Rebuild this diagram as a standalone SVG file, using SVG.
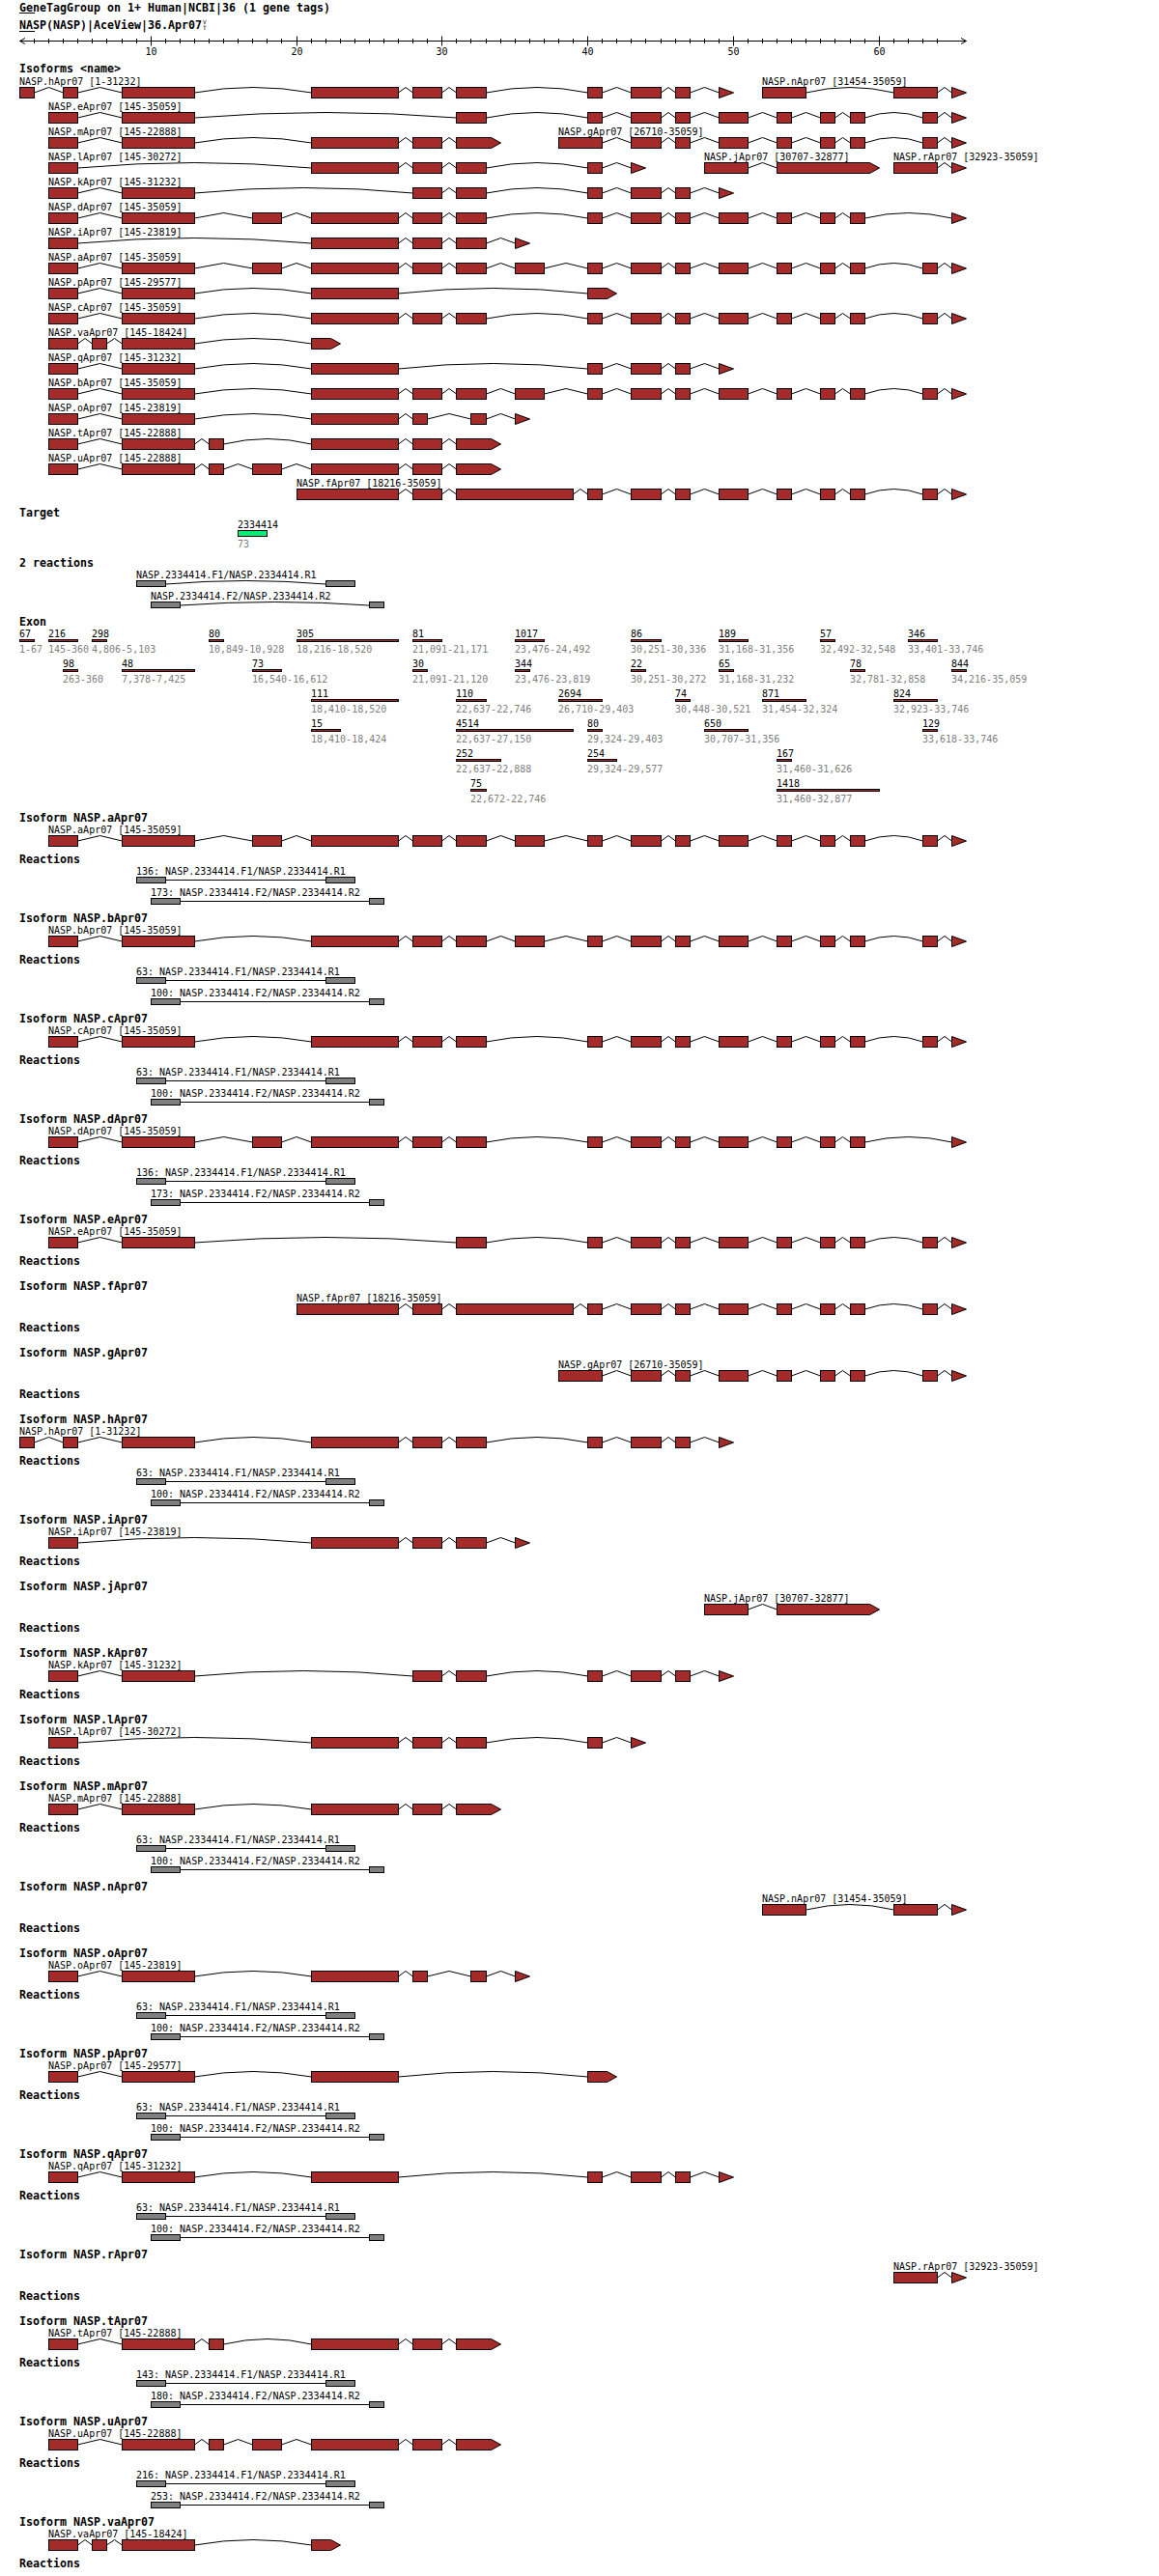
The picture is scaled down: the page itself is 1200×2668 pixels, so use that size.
<svg xmlns="http://www.w3.org/2000/svg" width="1200" height="2668" viewBox="0 0 1200 2668">
<style>
text{font-family:"DejaVu Sans Mono","Liberation Mono",monospace;font-size:10px;fill:#000}
.b{font-weight:bold;font-size:11.63px}
.s{fill:#808080}
.x{fill:#a52a2a;stroke:#000;stroke-width:1}
.i{fill:none;stroke:#000;stroke-width:1}
.r{fill:#808080;stroke:#000;stroke-width:1}
.tg{fill:#00ee76;stroke:#000;stroke-width:1}
</style>
<defs>
<g id="hd"><path class="i" d="M80.5 6L103.5 .5L126.5 6"/><rect class="x" x="50.5" y=".5" width="30" height="11"/><rect class="x" x="126.5" y=".5" width="75" height="11"/></g>
<g id="md"><path class="i" d="M412.5 6L420 .5L427.5 6M457.5 6L465 .5L472.5 6"/><rect class="x" x="322.5" y=".5" width="90" height="11"/><rect class="x" x="427.5" y=".5" width="30" height="11"/><rect class="x" x="472.5" y=".5" width="31" height="11"/></g>
<g id="mt"><path class="i" d="M412.5 6L420 .5L427.5 6M457.5 6L465 .5L472.5 6"/><rect class="x" x="322.5" y=".5" width="90" height="11"/><rect class="x" x="427.5" y=".5" width="30" height="11"/><polygon class="x" points="472.5,.5 508.5,.5 518.5,6 508.5,11.5 472.5,11.5"/></g>
<g id="ta"><path class="i" d="M623.5 6L638.5 .5L653.5 6M684.5 6L692 .5L699.5 6M714.5 6L729.5 .5L744.5 6M774.5 6L789.5 .5L804.5 6M819.5 6L834.5 .5L849.5 6M864.5 6L872.5 .5L880.5 6"/><rect class="x" x="608.5" y=".5" width="15" height="11"/><rect class="x" x="653.5" y=".5" width="31" height="11"/><rect class="x" x="699.5" y=".5" width="15" height="11"/><rect class="x" x="744.5" y=".5" width="30" height="11"/><rect class="x" x="804.5" y=".5" width="15" height="11"/><rect class="x" x="849.5" y=".5" width="15" height="11"/><rect class="x" x="880.5" y=".5" width="15" height="11"/></g>
<g id="tb"><path class="i" d="M895.5 6Q925.5 -5 955.5 6M970.5 6L978 .5L985.5 6"/><rect class="x" x="955.5" y=".5" width="15" height="11"/><polygon class="x" points="985.5,.5 1000.5,6 985.5,11.5"/></g>
<g id="tk"><path class="i" d="M623.5 6L638.5 .5L653.5 6M684.5 6L692 .5L699.5 6M714.5 6L729.5 .5L744.5 6"/><rect class="x" x="608.5" y=".5" width="15" height="11"/><rect class="x" x="653.5" y=".5" width="31" height="11"/><rect class="x" x="699.5" y=".5" width="15" height="11"/><polygon class="x" points="744.5,.5 759.5,6 744.5,11.5"/></g>

<g id="R-h"><path class="i" d="M35.5 6L50.5 .5L65.5 6M80.5 6L103.5 .5L126.5 6M201.5 6Q262 -5 322.5 6M503.5 6Q556 -5 608.5 6"/><rect class="x" x="20.5" y=".5" width="15" height="11"/><rect class="x" x="65.5" y=".5" width="15" height="11"/><rect class="x" x="126.5" y=".5" width="75" height="11"/><use href="#md"/><use href="#tk"/></g>
<g id="R-e"><path class="i" d="M201.5 6Q337 -5 472.5 6M503.5 6Q556 -5 608.5 6"/><use href="#hd"/><rect class="x" x="472.5" y=".5" width="31" height="11"/><use href="#ta"/><use href="#tb"/></g>
<g id="R-m"><path class="i" d="M201.5 6Q262 -5 322.5 6"/><use href="#hd"/><use href="#mt"/></g>
<g id="R-t"><path class="i" d="M201.5 6L209 .5L216.5 6M231.5 6Q277 -5 322.5 6"/><use href="#hd"/><rect class="x" x="216.5" y=".5" width="15" height="11"/><use href="#mt"/></g>
<g id="R-u"><path class="i" d="M201.5 6L209 .5L216.5 6M231.5 6L246.5 .5L261.5 6M291.5 6L307 .5L322.5 6"/><use href="#hd"/><rect class="x" x="216.5" y=".5" width="15" height="11"/><rect class="x" x="261.5" y=".5" width="30" height="11"/><use href="#mt"/></g>
<g id="R-g"><use href="#ta"/><use href="#tb"/><rect class="x" x="578.5" y=".5" width="45" height="11"/></g>
<g id="R-l"><path class="i" d="M80.5 6Q201.5 -5 322.5 6M503.5 6Q556 -5 608.5 6M623.5 6L638.5 .5L653.5 6"/><rect class="x" x="50.5" y=".5" width="30" height="11"/><use href="#md"/><rect class="x" x="608.5" y=".5" width="15" height="11"/><polygon class="x" points="653.5,.5 668.5,6 653.5,11.5"/></g>
<g id="R-j"><path class="i" d="M774.5 6L789.5 .5L804.5 6"/><rect class="x" x="729.5" y=".5" width="45" height="11"/><polygon class="x" points="804.5,.5 900.5,.5 910.5,6 900.5,11.5 804.5,11.5"/></g>
<g id="R-r"><path class="i" d="M970.5 6L978 .5L985.5 6"/><rect class="x" x="925.5" y=".5" width="45" height="11"/><polygon class="x" points="985.5,.5 1000.5,6 985.5,11.5"/></g>
<g id="R-k"><path class="i" d="M201.5 6Q314.5 -5 427.5 6M457.5 6L465 .5L472.5 6M503.5 6Q556 -5 608.5 6"/><use href="#hd"/><rect class="x" x="427.5" y=".5" width="30" height="11"/><rect class="x" x="472.5" y=".5" width="31" height="11"/><use href="#tk"/></g>
<g id="R-d"><path class="i" d="M201.5 6L231.5 .5L261.5 6M291.5 6L307 .5L322.5 6M503.5 6Q556 -5 608.5 6M895.5 6Q940.5 -5 985.5 6"/><use href="#hd"/><rect class="x" x="261.5" y=".5" width="30" height="11"/><use href="#md"/><use href="#ta"/><polygon class="x" points="985.5,.5 1000.5,6 985.5,11.5"/></g>
<g id="R-i"><path class="i" d="M80.5 6Q201.5 -5 322.5 6M503.5 6L518.5 .5L533.5 6"/><rect class="x" x="50.5" y=".5" width="30" height="11"/><use href="#md"/><polygon class="x" points="533.5,.5 548.5,6 533.5,11.5"/></g>
<g id="R-a"><path class="i" d="M201.5 6L231.5 .5L261.5 6M291.5 6L307 .5L322.5 6M503.5 6L518.5 .5L533.5 6M563.5 6L586 .5L608.5 6"/><use href="#hd"/><rect class="x" x="261.5" y=".5" width="30" height="11"/><use href="#md"/><rect class="x" x="533.5" y=".5" width="30" height="11"/><use href="#ta"/><use href="#tb"/></g>
<g id="R-p"><path class="i" d="M201.5 6Q262 -5 322.5 6M412.5 6Q510.5 -5 608.5 6"/><use href="#hd"/><rect class="x" x="322.5" y=".5" width="90" height="11"/><polygon class="x" points="608.5,.5 628.5,.5 638.5,6 628.5,11.5 608.5,11.5"/></g>
<g id="R-c"><path class="i" d="M201.5 6Q262 -5 322.5 6M503.5 6Q556 -5 608.5 6"/><use href="#hd"/><use href="#md"/><use href="#ta"/><use href="#tb"/></g>
<g id="R-va"><path class="i" d="M80.5 6L88 .5L95.5 6M110.5 6L118.5 .5L126.5 6M201.5 6Q262 -5 322.5 6"/><rect class="x" x="50.5" y=".5" width="30" height="11"/><rect class="x" x="95.5" y=".5" width="15" height="11"/><rect class="x" x="126.5" y=".5" width="75" height="11"/><polygon class="x" points="322.5,.5 342.5,.5 352.5,6 342.5,11.5 322.5,11.5"/></g>
<g id="R-q"><path class="i" d="M201.5 6Q262 -5 322.5 6M412.5 6Q510.5 -5 608.5 6"/><use href="#hd"/><rect class="x" x="322.5" y=".5" width="90" height="11"/><use href="#tk"/></g>
<g id="R-b"><path class="i" d="M201.5 6Q262 -5 322.5 6M503.5 6L518.5 .5L533.5 6M563.5 6L586 .5L608.5 6"/><use href="#hd"/><use href="#md"/><rect class="x" x="533.5" y=".5" width="30" height="11"/><use href="#ta"/><use href="#tb"/></g>
<g id="R-o"><path class="i" d="M201.5 6Q262 -5 322.5 6M412.5 6L420 .5L427.5 6M442.5 6L465 .5L487.5 6M503.5 6L518.5 .5L533.5 6"/><use href="#hd"/><rect class="x" x="322.5" y=".5" width="90" height="11"/><rect class="x" x="427.5" y=".5" width="15" height="11"/><rect class="x" x="487.5" y=".5" width="16" height="11"/><polygon class="x" points="533.5,.5 548.5,6 533.5,11.5"/></g>
<g id="R-f"><path class="i" d="M412.5 6L420 .5L427.5 6M457.5 6L465 .5L472.5 6M593.5 6L601 .5L608.5 6"/><rect class="x" x="307.5" y=".5" width="105" height="11"/><rect class="x" x="427.5" y=".5" width="30" height="11"/><rect class="x" x="472.5" y=".5" width="121" height="11"/><use href="#ta"/><use href="#tb"/></g>
<g id="R-n"><path class="i" d="M834.5 6Q880 -5 925.5 6M970.5 6L978 .5L985.5 6"/><rect class="x" x="789.5" y=".5" width="45" height="11"/><rect class="x" x="925.5" y=".5" width="45" height="11"/><polygon class="x" points="985.5,.5 1000.5,6 985.5,11.5"/></g>
<g id="rx"><path class="i" d="M171.5 3.5H337.5M186.5 25.5H382.5"/><rect class="r" x="141.5" y=".5" width="30" height="6"/><rect class="r" x="337.5" y=".5" width="30" height="6"/><rect class="r" x="156.5" y="22.5" width="30" height="6"/><rect class="r" x="382.5" y="22.5" width="15" height="6"/></g>
</defs>
<rect width="1200" height="2668" fill="#fff"/>

<g id="header">
<text class="b" x="20" y="11.5">GeneTagGroup on 1+ Human|NCBI|36 (1 gene tags)</text>
<text class="b" x="20" y="29.5">NASP(NASP)|AceView|36.Apr07</text>
<text x="210" y="25" style="font-size:6px">V</text>
<text x="210" y="31" style="font-size:6px">T</text>
<path class="i" d="M20 13.5H36M20 32.5H36"/>
</g>

<g id="scale">
<path class="i" d="M20.5 42.5H1000.5M26 39.5L20.5 42.5L26 45.5M995 39.5L1000.5 42.5L995 45.5"/>
<path class="i" d="M35.5 40v5M50.5 40v5M65.5 40v5M80.5 40v5M95.5 40v5M110.5 40v5M126.5 40v5M141.5 40v5M171.5 40v5M186.5 40v5M201.5 40v5M216.5 40v5M231.5 40v5M246.5 40v5M261.5 40v5M276.5 40v5M291.5 40v5M322.5 40v5M337.5 40v5M352.5 40v5M367.5 40v5M382.5 40v5M397.5 40v5M412.5 40v5M427.5 40v5M442.5 40v5M472.5 40v5M487.5 40v5M503.5 40v5M518.5 40v5M533.5 40v5M548.5 40v5M563.5 40v5M578.5 40v5M593.5 40v5M623.5 40v5M638.5 40v5M653.5 40v5M668.5 40v5M684.5 40v5M699.5 40v5M714.5 40v5M729.5 40v5M744.5 40v5M774.5 40v5M789.5 40v5M804.5 40v5M819.5 40v5M834.5 40v5M849.5 40v5M864.5 40v5M880.5 40v5M895.5 40v5M925.5 40v5M940.5 40v5M955.5 40v5M970.5 40v5"/>
<path class="i" d="M156.5 37.5v10M307.5 37.5v10M457.5 37.5v10M608.5 37.5v10M759.5 37.5v10M910.5 37.5v10"/>
<text x="156.5" y="56.5" text-anchor="middle">10</text>
<text x="307.5" y="56.5" text-anchor="middle">20</text>
<text x="457.5" y="56.5" text-anchor="middle">30</text>
<text x="608.5" y="56.5" text-anchor="middle">40</text>
<text x="759.5" y="56.5" text-anchor="middle">50</text>
<text x="910.5" y="56.5" text-anchor="middle">60</text>
</g>

<text class="b" x="20" y="75.2">Isoforms &lt;name&gt;</text>
<g id="isoforms">
<g id="iso-h"><text x="20" y="87.5">NASP.hApr07 [1-31232]</text><use href="#R-h" y="90"/></g>
<g id="iso-n"><text x="789" y="87.5">NASP.nApr07 [31454-35059]</text><use href="#R-n" y="90"/></g>
<g id="iso-e"><text x="50" y="113.5">NASP.eApr07 [145-35059]</text><use href="#R-e" y="116"/></g>
<g id="iso-m"><text x="50" y="139.5">NASP.mApr07 [145-22888]</text><use href="#R-m" y="142"/></g>
<g id="iso-g"><text x="578" y="139.5">NASP.gApr07 [26710-35059]</text><use href="#R-g" y="142"/></g>
<g id="iso-l"><text x="50" y="165.5">NASP.lApr07 [145-30272]</text><use href="#R-l" y="168"/></g>
<g id="iso-j"><text x="729" y="165.5">NASP.jApr07 [30707-32877]</text><use href="#R-j" y="168"/></g>
<g id="iso-r"><text x="925" y="165.5">NASP.rApr07 [32923-35059]</text><use href="#R-r" y="168"/></g>
<g id="iso-k"><text x="50" y="191.5">NASP.kApr07 [145-31232]</text><use href="#R-k" y="194"/></g>
<g id="iso-d"><text x="50" y="217.5">NASP.dApr07 [145-35059]</text><use href="#R-d" y="220"/></g>
<g id="iso-i"><text x="50" y="243.5">NASP.iApr07 [145-23819]</text><use href="#R-i" y="246"/></g>
<g id="iso-a"><text x="50" y="269.5">NASP.aApr07 [145-35059]</text><use href="#R-a" y="272"/></g>
<g id="iso-p"><text x="50" y="295.5">NASP.pApr07 [145-29577]</text><use href="#R-p" y="298"/></g>
<g id="iso-c"><text x="50" y="321.5">NASP.cApr07 [145-35059]</text><use href="#R-c" y="324"/></g>
<g id="iso-va"><text x="50" y="347.5">NASP.vaApr07 [145-18424]</text><use href="#R-va" y="350"/></g>
<g id="iso-q"><text x="50" y="373.5">NASP.qApr07 [145-31232]</text><use href="#R-q" y="376"/></g>
<g id="iso-b"><text x="50" y="399.5">NASP.bApr07 [145-35059]</text><use href="#R-b" y="402"/></g>
<g id="iso-o"><text x="50" y="425.5">NASP.oApr07 [145-23819]</text><use href="#R-o" y="428"/></g>
<g id="iso-t"><text x="50" y="451.5">NASP.tApr07 [145-22888]</text><use href="#R-t" y="454"/></g>
<g id="iso-u"><text x="50" y="477.5">NASP.uApr07 [145-22888]</text><use href="#R-u" y="480"/></g>
<g id="iso-f"><text x="307" y="503.5">NASP.fApr07 [18216-35059]</text><use href="#R-f" y="506"/></g>
</g>

<g id="target">
<text class="b" x="20" y="534.5">Target</text>
<text x="246" y="546.6">2334414</text>
<rect class="tg" x="246.5" y="549.5" width="30" height="6"/>
<text class="s" x="246" y="566.6">73</text>
</g>

<g id="reactions">
<text class="b" x="20" y="586.8">2 reactions</text>
<path class="i" d="M171.5 605Q254.5 598 337.5 605M186.5 627Q284.5 620 382.5 627"/>
<text x="141" y="598.6">NASP.2334414.F1/NASP.2334414.R1</text>
<rect class="r" x="141.5" y="601.5" width="30" height="6"/>
<rect class="r" x="337.5" y="601.5" width="30" height="6"/>
<text x="156" y="620.6">NASP.2334414.F2/NASP.2334414.R2</text>
<rect class="r" x="156.5" y="623.5" width="30" height="6"/>
<rect class="r" x="382.5" y="623.5" width="15" height="6"/>
</g>

<g id="exons">
<text class="b" x="20" y="647.8">Exon</text>
<text x="20" y="660">67</text><rect class="x" x="20.5" y="662.5" width="15" height="2"/><text class="s" x="20" y="675.5">1-67</text>
<text x="50" y="660">216</text><rect class="x" x="50.5" y="662.5" width="30" height="2"/><text class="s" x="50" y="675.5">145-360</text>
<text x="95" y="660">298</text><rect class="x" x="95.5" y="662.5" width="15" height="2"/><text class="s" x="95" y="675.5">4,806-5,103</text>
<text x="216" y="660">80</text><rect class="x" x="216.5" y="662.5" width="15" height="2"/><text class="s" x="216" y="675.5">10,849-10,928</text>
<text x="307" y="660">305</text><rect class="x" x="307.5" y="662.5" width="105" height="2"/><text class="s" x="307" y="675.5">18,216-18,520</text>
<text x="427" y="660">81</text><rect class="x" x="427.5" y="662.5" width="30" height="2"/><text class="s" x="427" y="675.5">21,091-21,171</text>
<text x="533" y="660">1017</text><rect class="x" x="533.5" y="662.5" width="30" height="2"/><text class="s" x="533" y="675.5">23,476-24,492</text>
<text x="653" y="660">86</text><rect class="x" x="653.5" y="662.5" width="31" height="2"/><text class="s" x="653" y="675.5">30,251-30,336</text>
<text x="744" y="660">189</text><rect class="x" x="744.5" y="662.5" width="30" height="2"/><text class="s" x="744" y="675.5">31,168-31,356</text>
<text x="849" y="660">57</text><rect class="x" x="849.5" y="662.5" width="15" height="2"/><text class="s" x="849" y="675.5">32,492-32,548</text>
<text x="940" y="660">346</text><rect class="x" x="940.5" y="662.5" width="30" height="2"/><text class="s" x="940" y="675.5">33,401-33,746</text>

<text x="65" y="691">98</text><rect class="x" x="65.5" y="693.5" width="15" height="2"/><text class="s" x="65" y="706.5">263-360</text>
<text x="126" y="691">48</text><rect class="x" x="126.5" y="693.5" width="75" height="2"/><text class="s" x="126" y="706.5">7,378-7,425</text>
<text x="261" y="691">73</text><rect class="x" x="261.5" y="693.5" width="30" height="2"/><text class="s" x="261" y="706.5">16,540-16,612</text>
<text x="427" y="691">30</text><rect class="x" x="427.5" y="693.5" width="15" height="2"/><text class="s" x="427" y="706.5">21,091-21,120</text>
<text x="533" y="691">344</text><rect class="x" x="533.5" y="693.5" width="15" height="2"/><text class="s" x="533" y="706.5">23,476-23,819</text>
<text x="653" y="691">22</text><rect class="x" x="653.5" y="693.5" width="15" height="2"/><text class="s" x="653" y="706.5">30,251-30,272</text>
<text x="744" y="691">65</text><rect class="x" x="744.5" y="693.5" width="15" height="2"/><text class="s" x="744" y="706.5">31,168-31,232</text>
<text x="880" y="691">78</text><rect class="x" x="880.5" y="693.5" width="15" height="2"/><text class="s" x="880" y="706.5">32,781-32,858</text>
<text x="985" y="691">844</text><rect class="x" x="985.5" y="693.5" width="15" height="2"/><text class="s" x="985" y="706.5">34,216-35,059</text>

<text x="322" y="722">111</text><rect class="x" x="322.5" y="724.5" width="90" height="2"/><text class="s" x="322" y="737.5">18,410-18,520</text>
<text x="472" y="722">110</text><rect class="x" x="472.5" y="724.5" width="31" height="2"/><text class="s" x="472" y="737.5">22,637-22,746</text>
<text x="578" y="722">2694</text><rect class="x" x="578.5" y="724.5" width="45" height="2"/><text class="s" x="578" y="737.5">26,710-29,403</text>
<text x="699" y="722">74</text><rect class="x" x="699.5" y="724.5" width="15" height="2"/><text class="s" x="699" y="737.5">30,448-30,521</text>
<text x="789" y="722">871</text><rect class="x" x="789.5" y="724.5" width="45" height="2"/><text class="s" x="789" y="737.5">31,454-32,324</text>
<text x="925" y="722">824</text><rect class="x" x="925.5" y="724.5" width="45" height="2"/><text class="s" x="925" y="737.5">32,923-33,746</text>

<text x="322" y="753">15</text><rect class="x" x="322.5" y="755.5" width="30" height="2"/><text class="s" x="322" y="768.5">18,410-18,424</text>
<text x="472" y="753">4514</text><rect class="x" x="472.5" y="755.5" width="121" height="2"/><text class="s" x="472" y="768.5">22,637-27,150</text>
<text x="608" y="753">80</text><rect class="x" x="608.5" y="755.5" width="15" height="2"/><text class="s" x="608" y="768.5">29,324-29,403</text>
<text x="729" y="753">650</text><rect class="x" x="729.5" y="755.5" width="45" height="2"/><text class="s" x="729" y="768.5">30,707-31,356</text>
<text x="955" y="753">129</text><rect class="x" x="955.5" y="755.5" width="15" height="2"/><text class="s" x="955" y="768.5">33,618-33,746</text>

<text x="472" y="784">252</text><rect class="x" x="472.5" y="786.5" width="46" height="2"/><text class="s" x="472" y="799.5">22,637-22,888</text>
<text x="608" y="784">254</text><rect class="x" x="608.5" y="786.5" width="30" height="2"/><text class="s" x="608" y="799.5">29,324-29,577</text>
<text x="804" y="784">167</text><rect class="x" x="804.5" y="786.5" width="15" height="2"/><text class="s" x="804" y="799.5">31,460-31,626</text>

<text x="487" y="815">75</text><rect class="x" x="487.5" y="817.5" width="16" height="2"/><text class="s" x="487" y="830.5">22,672-22,746</text>
<text x="804" y="815">1418</text><rect class="x" x="804.5" y="817.5" width="106" height="2"/><text class="s" x="804" y="830.5">31,460-32,877</text>
</g>

<g id="sec-a"><text class="b" x="20" y="850.5">Isoform NASP.aApr07</text><text x="50" y="862.5">NASP.aApr07 [145-35059]</text><use href="#R-a" y="865"/><text class="b" x="20" y="893.5">Reactions</text><text x="141" y="905.5">136: NASP.2334414.F1/NASP.2334414.R1</text><text x="156" y="928">173: NASP.2334414.F2/NASP.2334414.R2</text><use href="#rx" y="908"/></g>
<g id="sec-b"><text class="b" x="20" y="954.5">Isoform NASP.bApr07</text><text x="50" y="966.5">NASP.bApr07 [145-35059]</text><use href="#R-b" y="969"/><text class="b" x="20" y="997.5">Reactions</text><text x="141" y="1009.5">63: NASP.2334414.F1/NASP.2334414.R1</text><text x="156" y="1032">100: NASP.2334414.F2/NASP.2334414.R2</text><use href="#rx" y="1012"/></g>
<g id="sec-c"><text class="b" x="20" y="1058.5">Isoform NASP.cApr07</text><text x="50" y="1070.5">NASP.cApr07 [145-35059]</text><use href="#R-c" y="1073"/><text class="b" x="20" y="1101.5">Reactions</text><text x="141" y="1113.5">63: NASP.2334414.F1/NASP.2334414.R1</text><text x="156" y="1136">100: NASP.2334414.F2/NASP.2334414.R2</text><use href="#rx" y="1116"/></g>
<g id="sec-d"><text class="b" x="20" y="1162.5">Isoform NASP.dApr07</text><text x="50" y="1174.5">NASP.dApr07 [145-35059]</text><use href="#R-d" y="1177"/><text class="b" x="20" y="1205.5">Reactions</text><text x="141" y="1217.5">136: NASP.2334414.F1/NASP.2334414.R1</text><text x="156" y="1240">173: NASP.2334414.F2/NASP.2334414.R2</text><use href="#rx" y="1220"/></g>
<g id="sec-e"><text class="b" x="20" y="1266.5">Isoform NASP.eApr07</text><text x="50" y="1278.5">NASP.eApr07 [145-35059]</text><use href="#R-e" y="1281"/><text class="b" x="20" y="1309.5">Reactions</text></g>
<g id="sec-f"><text class="b" x="20" y="1335.5">Isoform NASP.fApr07</text><text x="307" y="1347.5">NASP.fApr07 [18216-35059]</text><use href="#R-f" y="1350"/><text class="b" x="20" y="1378.5">Reactions</text></g>
<g id="sec-g"><text class="b" x="20" y="1404.5">Isoform NASP.gApr07</text><text x="578" y="1416.5">NASP.gApr07 [26710-35059]</text><use href="#R-g" y="1419"/><text class="b" x="20" y="1447.5">Reactions</text></g>
<g id="sec-h"><text class="b" x="20" y="1473.5">Isoform NASP.hApr07</text><text x="20" y="1485.5">NASP.hApr07 [1-31232]</text><use href="#R-h" y="1488"/><text class="b" x="20" y="1516.5">Reactions</text><text x="141" y="1528.5">63: NASP.2334414.F1/NASP.2334414.R1</text><text x="156" y="1551">100: NASP.2334414.F2/NASP.2334414.R2</text><use href="#rx" y="1531"/></g>
<g id="sec-i"><text class="b" x="20" y="1577.5">Isoform NASP.iApr07</text><text x="50" y="1589.5">NASP.iApr07 [145-23819]</text><use href="#R-i" y="1592"/><text class="b" x="20" y="1620.5">Reactions</text></g>
<g id="sec-j"><text class="b" x="20" y="1646.5">Isoform NASP.jApr07</text><text x="729" y="1658.5">NASP.jApr07 [30707-32877]</text><use href="#R-j" y="1661"/><text class="b" x="20" y="1689.5">Reactions</text></g>
<g id="sec-k"><text class="b" x="20" y="1715.5">Isoform NASP.kApr07</text><text x="50" y="1727.5">NASP.kApr07 [145-31232]</text><use href="#R-k" y="1730"/><text class="b" x="20" y="1758.5">Reactions</text></g>
<g id="sec-l"><text class="b" x="20" y="1784.5">Isoform NASP.lApr07</text><text x="50" y="1796.5">NASP.lApr07 [145-30272]</text><use href="#R-l" y="1799"/><text class="b" x="20" y="1827.5">Reactions</text></g>
<g id="sec-m"><text class="b" x="20" y="1853.5">Isoform NASP.mApr07</text><text x="50" y="1865.5">NASP.mApr07 [145-22888]</text><use href="#R-m" y="1868"/><text class="b" x="20" y="1896.5">Reactions</text><text x="141" y="1908.5">63: NASP.2334414.F1/NASP.2334414.R1</text><text x="156" y="1931">100: NASP.2334414.F2/NASP.2334414.R2</text><use href="#rx" y="1911"/></g>
<g id="sec-n"><text class="b" x="20" y="1957.5">Isoform NASP.nApr07</text><text x="789" y="1969.5">NASP.nApr07 [31454-35059]</text><use href="#R-n" y="1972"/><text class="b" x="20" y="2000.5">Reactions</text></g>
<g id="sec-o"><text class="b" x="20" y="2026.5">Isoform NASP.oApr07</text><text x="50" y="2038.5">NASP.oApr07 [145-23819]</text><use href="#R-o" y="2041"/><text class="b" x="20" y="2069.5">Reactions</text><text x="141" y="2081.5">63: NASP.2334414.F1/NASP.2334414.R1</text><text x="156" y="2104">100: NASP.2334414.F2/NASP.2334414.R2</text><use href="#rx" y="2084"/></g>
<g id="sec-p"><text class="b" x="20" y="2130.5">Isoform NASP.pApr07</text><text x="50" y="2142.5">NASP.pApr07 [145-29577]</text><use href="#R-p" y="2145"/><text class="b" x="20" y="2173.5">Reactions</text><text x="141" y="2185.5">63: NASP.2334414.F1/NASP.2334414.R1</text><text x="156" y="2208">100: NASP.2334414.F2/NASP.2334414.R2</text><use href="#rx" y="2188"/></g>
<g id="sec-q"><text class="b" x="20" y="2234.5">Isoform NASP.qApr07</text><text x="50" y="2246.5">NASP.qApr07 [145-31232]</text><use href="#R-q" y="2249"/><text class="b" x="20" y="2277.5">Reactions</text><text x="141" y="2289.5">63: NASP.2334414.F1/NASP.2334414.R1</text><text x="156" y="2312">100: NASP.2334414.F2/NASP.2334414.R2</text><use href="#rx" y="2292"/></g>
<g id="sec-r"><text class="b" x="20" y="2338.5">Isoform NASP.rApr07</text><text x="925" y="2350.5">NASP.rApr07 [32923-35059]</text><use href="#R-r" y="2353"/><text class="b" x="20" y="2381.5">Reactions</text></g>
<g id="sec-t"><text class="b" x="20" y="2407.5">Isoform NASP.tApr07</text><text x="50" y="2419.5">NASP.tApr07 [145-22888]</text><use href="#R-t" y="2422"/><text class="b" x="20" y="2450.5">Reactions</text><text x="141" y="2462.5">143: NASP.2334414.F1/NASP.2334414.R1</text><text x="156" y="2485">180: NASP.2334414.F2/NASP.2334414.R2</text><use href="#rx" y="2465"/></g>
<g id="sec-u"><text class="b" x="20" y="2511.5">Isoform NASP.uApr07</text><text x="50" y="2523.5">NASP.uApr07 [145-22888]</text><use href="#R-u" y="2526"/><text class="b" x="20" y="2554.5">Reactions</text><text x="141" y="2566.5">216: NASP.2334414.F1/NASP.2334414.R1</text><text x="156" y="2589">253: NASP.2334414.F2/NASP.2334414.R2</text><use href="#rx" y="2569"/></g>
<g id="sec-va"><text class="b" x="20" y="2615.5">Isoform NASP.vaApr07</text><text x="50" y="2627.5">NASP.vaApr07 [145-18424]</text><use href="#R-va" y="2630"/><text class="b" x="20" y="2658.5">Reactions</text></g>
</svg>
